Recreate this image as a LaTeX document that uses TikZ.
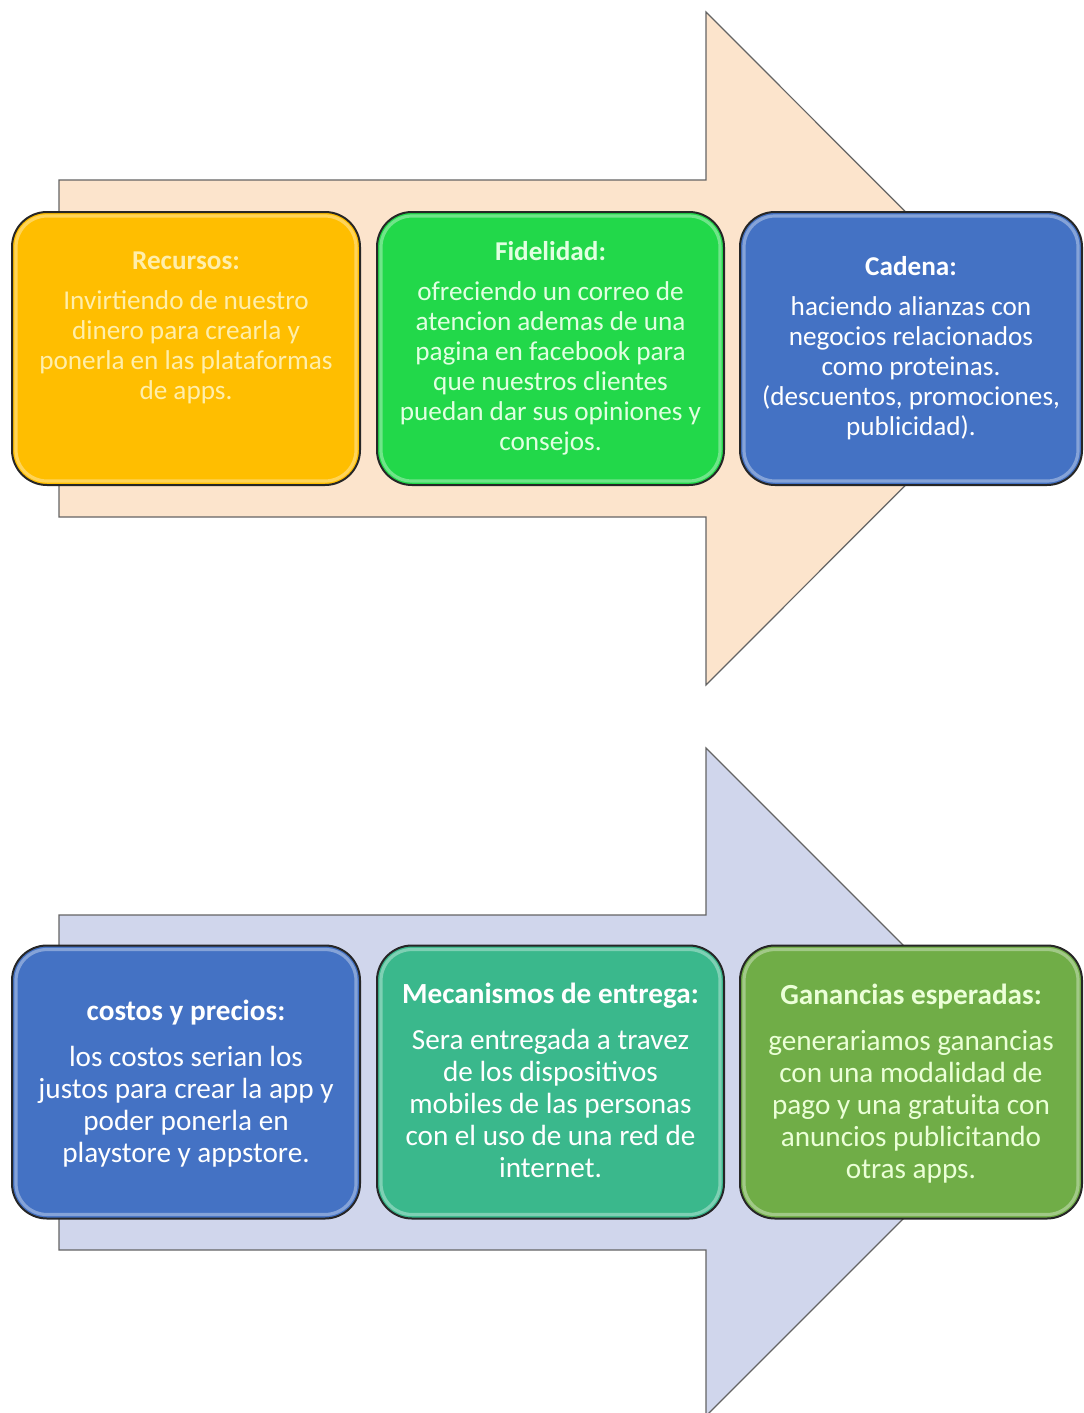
\documentclass[tikz,border=0pt]{standalone}
\usepackage{fontspec}
\setmainfont{Carlito}
\usepackage{tikz}
\usetikzlibrary{calc}
\definecolor{ar_peach}{RGB}{252, 228, 204}
\definecolor{ar_lav}{RGB}{208, 214, 236}
\definecolor{ar_line}{RGB}{100, 100, 100}
\definecolor{bx_gold}{RGB}{255, 190, 0}
\definecolor{bx_lime}{RGB}{34, 216, 74}
\definecolor{bx_blue}{RGB}{68, 114, 196}
\definecolor{bx_teal}{RGB}{58, 184, 140}
\definecolor{bx_olive}{RGB}{112, 173, 71}
\definecolor{tx_cream}{RGB}{255, 238, 170}
\definecolor{tx_mint}{RGB}{225, 255, 225}
\definecolor{tx_pale}{RGB}{235, 255, 215}
\tikzstyle{arw}=[draw=ar_line,line width=0.6pt]
\tikzstyle{card}=[rectangle,rounded corners=17.5pt,draw=black!85,
  line width=1pt,minimum height=136.5pt,inner sep=0pt]
\tikzstyle{glint}=[draw=white,opacity=0.35,line width=1.6pt,rounded corners=15.5pt]
\tikzstyle{txt}=[align=center,inner sep=0pt,anchor=base,text=white,
  font=\fontsize{13.6}{15}\selectfont]
\tikzstyle{txtb}=[align=center,inner sep=0pt,anchor=base,text=white,
  font=\fontsize{14.6}{16}\selectfont]

\begin{document}
\begin{tikzpicture}[x=0.5pt,y=-0.5pt]
            \useasboundingbox (0, 0) rectangle (1083, 1413);
            % arrows
            \draw [style=arw, fill=ar_peach] (59, 180) -- (706, 180) -- (706, 12) -- (1042, 348.5)
              -- (706, 685) -- (706, 517) -- (59, 517) -- cycle;
            \draw [style=arw, fill=ar_lav] (59, 915) -- (706, 915) -- (706, 748) -- (1040, 1082)
              -- (706, 1416) -- (706, 1250) -- (59, 1250) -- cycle;
            % boxes
            \node [style=card, fill=bx_gold, minimum width=174pt] (b1) at (186, 348.5) {};
            \node [style=card, fill=bx_lime, minimum width=173.5pt] (b2) at (550.5, 348.5) {};
            \node [style=card, fill=bx_blue, minimum width=171pt] (b3) at (911, 348.5) {};
            \node [style=card, fill=bx_blue, minimum width=174pt] (b4) at (186, 1082) {};
            \node [style=card, fill=bx_teal, minimum width=173.5pt] (b5) at (550.5, 1082) {};
            \node [style=card, fill=bx_olive, minimum width=171pt] (b6) at (911, 1082) {};
            \foreach \b in {b1,b2,b3,b4,b5,b6}
              \draw [style=glint] ([shift={(5,5)}]\b.north west) rectangle ([shift={(-5,-5)}]\b.south east);
            % texts (base = last line)
            \node [style=txt, text=tx_cream] (t1) at (186, 399) {\textbf{Recursos:}\\[5pt]
              Invirtiendo de nuestro\\ dinero para crearla y\\ ponerla en las plataformas\\ de apps.};
            \node [style=txt, text=tx_mint] (t2) at (550.5, 450) {\textbf{Fidelidad:}\\[5pt]
              ofreciendo un correo de\\ atencion ademas de una\\ pagina en facebook para\\
              que nuestros clientes\\ puedan dar sus opiniones y\\ consejos.};
            \node [style=txt] (t3) at (911, 435) {\textbf{Cadena:}\\[5pt]
              haciendo alianzas con\\ negocios relacionados\\ como proteinas.\\
              (descuentos, promociones,\\ publicidad).};
            \node [style=txtb] (t4) at (186, 1162) {\textbf{costos y precios:}\\[7pt]
              los costos serian los\\ justos para crear la app y\\ poder ponerla en\\ playstore y appstore.};
            \node [style=txtb] (t5) at (550.5, 1177) {\textbf{Mecanismos de entrega:}\\[7pt]
              Sera entregada a travez\\ de los dispositivos\\ mobiles de las personas\\
              con el uso de una red de\\ internet.};
            \node [style=txtb, text=tx_pale] (t6) at (911, 1178) {\textbf{Ganancias esperadas:}\\[7pt]
              generariamos ganancias\\ con una modalidad de\\ pago y una gratuita con\\
              anuncios publicitando\\ otras apps.};
    \end{tikzpicture}
\end{document}
